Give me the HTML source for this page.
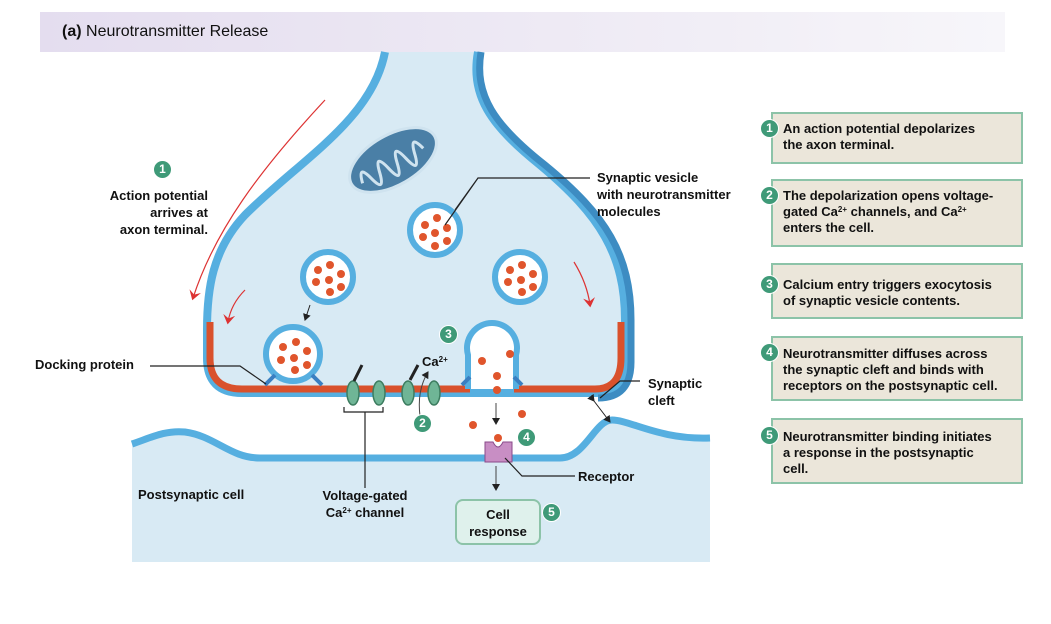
<!DOCTYPE html>
<html><head><meta charset="utf-8"><style>
body{margin:0;width:1051px;height:624px;background:#fff;font-family:"Liberation Sans",sans-serif;position:relative;overflow:hidden}
.hdr{position:absolute;left:40px;top:12px;width:965px;height:40px;background:linear-gradient(90deg,#e4ddef,#f1eef6 70%,#f7f6fa)}
.hdr span{position:absolute;left:22px;top:11px;font-size:16px;color:#111}
.box{position:absolute;left:771px;width:252px;background:#ebe6da;border:2px solid #8cc3a8;font-size:13px;font-weight:bold;line-height:16px;color:#111;padding:7px 0 0 10px;box-sizing:border-box;white-space:nowrap}
.num{position:absolute;width:15px;height:15px;border-radius:50%;background:#3f9a78;color:#fff;font-size:11px;font-weight:bold;text-align:center;line-height:15px;border:1px solid #fff}
.bn{width:17px;height:17px;line-height:17px;font-size:12px}
.lbl{position:absolute;font-size:13px;font-weight:bold;line-height:17px;color:#111;white-space:nowrap}
sup{font-size:8px;vertical-align:4px;line-height:0}
</style></head><body>
<div class="hdr"><span><b>(a)</b> Neurotransmitter Release</span></div>
<svg width="1051" height="624" style="position:absolute;left:0;top:0">
<defs><marker id="ar" markerWidth="8" markerHeight="8" refX="6" refY="4" orient="auto"><path d="M0,0 L7,4 L0,8 Z" fill="#222"/></marker>
<marker id="rr" markerWidth="10" markerHeight="10" refX="6" refY="5" orient="auto"><path d="M0,0 L8,5 L0,10 L3,5Z" fill="#d33"/></marker></defs>
<!-- postsynaptic -->
<path d="M132,444 C150,438 165,430 185,432 C215,436 230,458 260,458 L560,458 C585,458 595,420 612,420 C630,420 660,440 710,438 L710,562 L132,562 Z" fill="#d8eaf4"/>
<path d="M132,444 C150,438 165,430 185,432 C215,436 230,458 260,458 L560,458 C585,458 595,420 612,420 C630,420 660,440 710,438" fill="none" stroke="#56afe0" stroke-width="7"/>
<!-- terminal -->
<path d="M385,52 C372,120 300,160 245,215 C212,250 207,290 207,330 L207,358 Q207,393 242,393 L595,393 Q625,393 625,358 L625,320 C625,255 600,215 540,165 C490,125 470,95 478,52" fill="#d8eaf4" stroke="#56afe0" stroke-width="8"/>
<path d="M481,52 C474,95 494,125 545,165 C606,215 631,255 631,320 L631,362 Q631,398 598,398" fill="none" stroke="#3d8cc2" stroke-width="7"/>
<path d="M210,322 L210,358 Q210,389 242,389 L470,389 M514,389 L595,389 Q621,389 621,358 L621,322" fill="none" stroke="#d9512c" stroke-width="7"/>
<!-- mitochondrion -->
<g transform="rotate(-30 393 160)"><ellipse cx="393" cy="160" rx="48" ry="25" fill="#4a7fa6" stroke="#cfe3ef" stroke-width="3"/><path d="M355,165 q5,-20 10,0 q5,20 10,0 q5,-22 10,0 q5,22 10,0 q5,-22 10,0 q5,22 10,0 q5,-20 10,0" fill="none" stroke="#cfe3ef" stroke-width="3"/></g>
<!-- vesicles -->
<g stroke="#56afe0" stroke-width="6" fill="#fff">
<circle cx="435" cy="230" r="25"/><circle cx="328" cy="277" r="25"/><circle cx="520" cy="277" r="25"/><circle cx="293" cy="354" r="27"/>
<path d="M468,389 L468,355 A25,25 0 1 1 516,355 L516,389" fill="#fff"/>
</g>
<g fill="#e0552c">
<circle cx="425" cy="225" r="4"/><circle cx="437" cy="218" r="4"/><circle cx="447" cy="228" r="4"/><circle cx="423" cy="237" r="4"/><circle cx="435" cy="233" r="4"/><circle cx="447" cy="241" r="4"/><circle cx="435" cy="246" r="4"/>
<circle cx="318" cy="270" r="4"/><circle cx="330" cy="265" r="4"/><circle cx="341" cy="274" r="4"/><circle cx="316" cy="282" r="4"/><circle cx="329" cy="280" r="4"/><circle cx="341" cy="287" r="4"/><circle cx="330" cy="292" r="4"/>
<circle cx="510" cy="270" r="4"/><circle cx="522" cy="265" r="4"/><circle cx="533" cy="274" r="4"/><circle cx="508" cy="282" r="4"/><circle cx="521" cy="280" r="4"/><circle cx="533" cy="287" r="4"/><circle cx="522" cy="292" r="4"/>
<circle cx="283" cy="347" r="4"/><circle cx="296" cy="342" r="4"/><circle cx="307" cy="351" r="4"/><circle cx="281" cy="360" r="4"/><circle cx="294" cy="358" r="4"/><circle cx="307" cy="365" r="4"/><circle cx="295" cy="370" r="4"/>
<circle cx="482" cy="361" r="4"/><circle cx="510" cy="354" r="4"/><circle cx="497" cy="376" r="4"/><circle cx="497" cy="390" r="4"/>
<circle cx="473" cy="425" r="4"/><circle cx="522" cy="414" r="4"/><circle cx="498" cy="438" r="4"/>
</g>
<g stroke="#3a7fc1" stroke-width="4"><path d="M265,385 L275,375 M322,385 L312,375 M462,385 L470,377 M522,385 L514,377"/></g>
<g fill="#6fb596" stroke="#3d7d60" stroke-width="1.5">
<ellipse cx="353" cy="393" rx="6" ry="12"/><ellipse cx="379" cy="393" rx="6" ry="12"/><ellipse cx="408" cy="393" rx="6" ry="12"/><ellipse cx="434" cy="393" rx="6" ry="12"/></g>
<path d="M354,381 L362,365 M410,380 L418,365" stroke="#222" stroke-width="3"/>
<path d="M344,407 L344,412 L383,412 L383,407 M365,412 L365,488" stroke="#222" stroke-width="1.2" fill="none"/>
<path d="M420,416 C418,400 420,385 428,372" stroke="#444" fill="none" stroke-width="1" marker-end="url(#ar)"/>
<path d="M485,442 L493,442 Q498,452 503,442 L512,442 L512,462 L485,462 Z" fill="#c88ec4" stroke="#8a4a8a"/>
<path d="M310,305 L305,320" stroke="#222" marker-end="url(#ar)"/>
<path d="M496,403 L496,424" stroke="#444" marker-end="url(#ar)"/>
<path d="M496,466 L496,490" stroke="#444" marker-end="url(#ar)"/>
<path d="M325,100 C260,170 215,230 193,298" stroke="#d33" fill="none" stroke-width="1.2" marker-end="url(#rr)"/>
<path d="M245,290 C235,300 230,310 228,322" stroke="#d33" fill="none" stroke-width="1.2" marker-end="url(#rr)"/>
<path d="M574,262 C582,275 588,290 590,305" stroke="#d33" fill="none" stroke-width="1.2" marker-end="url(#rr)"/>
<path d="M594,401 L610,422" stroke="#222" marker-end="url(#ar)" marker-start="url(#ar)"/>
<g stroke="#222" stroke-width="1.2" fill="none">
<path d="M150,366 L240,366 L266,384"/>
<path d="M590,178 L478,178 L455,210 M478,178 L445,225"/>
<path d="M640,381 L620,381 L600,398"/>
<path d="M575,476 L522,476 L505,458"/>
</g>
<rect x="456" y="500" width="84" height="44" rx="7" fill="#dff1ec" stroke="#8cc3a8" stroke-width="2"/>
</svg>
<div class="lbl" style="left:466px;top:506px;width:64px;text-align:center">Cell<br>response</div>
<div class="lbl" style="left:60px;top:187px;width:148px;text-align:right">Action potential<br>arrives at<br>axon terminal.</div>
<div class="lbl" style="left:35px;top:356px">Docking protein</div>
<div class="lbl" style="left:597px;top:169px">Synaptic vesicle<br>with neurotransmitter<br>molecules</div>
<div class="lbl" style="left:648px;top:375px">Synaptic<br>cleft</div>
<div class="lbl" style="left:578px;top:468px">Receptor</div>
<div class="lbl" style="left:138px;top:486px">Postsynaptic cell</div>
<div class="lbl" style="left:305px;top:487px;width:120px;text-align:center">Voltage-gated<br>Ca<sup>2+</sup> channel</div>
<div class="lbl" style="left:422px;top:353px">Ca<sup>2+</sup></div>
<div class="num bn" style="left:153px;top:160px">1</div>
<div class="num bn" style="left:439px;top:325px">3</div>
<div class="num bn" style="left:413px;top:414px">2</div>
<div class="num bn" style="left:517px;top:428px">4</div>
<div class="num bn" style="left:542px;top:503px">5</div>
<div class="box" style="top:112px;height:52px">An action potential depolarizes<br>the axon terminal.</div>
<div class="box" style="top:179px;height:68px">The depolarization opens voltage-<br>gated Ca<sup>2+</sup> channels, and Ca<sup>2+</sup><br>enters the cell.</div>
<div class="box" style="top:263px;height:56px;padding-top:12px">Calcium entry triggers exocytosis<br>of synaptic vesicle contents.</div>
<div class="box" style="top:336px;height:65px;padding-top:8px">Neurotransmitter diffuses across<br>the synaptic cleft and binds with<br>receptors on the postsynaptic cell.</div>
<div class="box" style="top:418px;height:66px;padding-top:9px">Neurotransmitter binding initiates<br>a response in the postsynaptic<br>cell.</div>
<div class="num bn" style="left:760px;top:119px">1</div>
<div class="num bn" style="left:760px;top:186px">2</div>
<div class="num bn" style="left:760px;top:275px">3</div>
<div class="num bn" style="left:760px;top:343px">4</div>
<div class="num bn" style="left:760px;top:426px">5</div>
</body></html>
